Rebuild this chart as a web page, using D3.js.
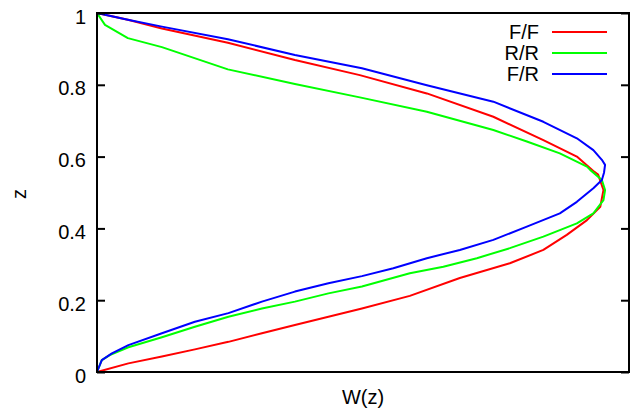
<!DOCTYPE html>
<html>
<head>
<meta charset="utf-8">
<script src="https://cdn.jsdelivr.net/npm/d3@7"></script>
<style>
  html, body { margin: 0; padding: 0; background: #fff; }
  text { font-family: "Liberation Sans", Arial, Helvetica, sans-serif; }
</style>
</head>
<body>
<svg id="chart" width="634" height="415"></svg>
<script>
// ---- data ----
const seriesNames = ["F/F", "R/R", "F/R"];
const seriesColors = ["#ff0000", "#00ff00", "#0000ff"];
const yTicks = [0, 0.2, 0.4, 0.6, 0.8, 1];

// F/F : W(z) (arbitrary units) and z
const ffW = [0, 0.059, 0.122, 0.184, 0.247, 0.310, 0.372, 0.435, 0.498, 0.588, 0.682, 0.776, 0.839, 0.883, 0.921, 0.946, 0.952, 0.942, 0.933, 0.902, 0.839, 0.745, 0.620, 0.494, 0.372, 0.246, 0.122, 0.058, 0];
const ffZ = [0, 0.024, 0.043, 0.063, 0.084, 0.108, 0.131, 0.154, 0.177, 0.212, 0.262, 0.303, 0.340, 0.382, 0.423, 0.460, 0.507, 0.550, 0.560, 0.600, 0.646, 0.711, 0.776, 0.827, 0.869, 0.917, 0.957, 0.981, 1];

// R/R
const rrW = [0, 0.009, 0.024, 0.059, 0.122, 0.184, 0.247, 0.310, 0.372, 0.435, 0.498, 0.588, 0.651, 0.714, 0.776, 0.839, 0.902, 0.933, 0.952, 0.955, 0.949, 0.927, 0.921, 0.870, 0.808, 0.745, 0.620, 0.494, 0.372, 0.246, 0.122, 0.058, 0.015, 0];
const rrZ = [0, 0.033, 0.047, 0.069, 0.097, 0.126, 0.154, 0.177, 0.196, 0.219, 0.238, 0.275, 0.293, 0.317, 0.345, 0.377, 0.414, 0.442, 0.479, 0.507, 0.535, 0.563, 0.572, 0.609, 0.642, 0.674, 0.725, 0.765, 0.802, 0.843, 0.905, 0.930, 0.967, 1];

// F/R
const frW = [0, 0.009, 0.028, 0.059, 0.122, 0.184, 0.247, 0.310, 0.372, 0.435, 0.498, 0.557, 0.620, 0.682, 0.745, 0.808, 0.870, 0.902, 0.933, 0.949, 0.953, 0.955, 0.949, 0.933, 0.902, 0.839, 0.745, 0.620, 0.498, 0.372, 0.246, 0.122, 0.058, 0];
const frZ = [0, 0.033, 0.052, 0.075, 0.108, 0.140, 0.164, 0.196, 0.224, 0.247, 0.267, 0.289, 0.317, 0.340, 0.368, 0.405, 0.442, 0.474, 0.512, 0.535, 0.555, 0.577, 0.591, 0.618, 0.651, 0.697, 0.753, 0.799, 0.846, 0.883, 0.927, 0.962, 0.981, 1];

const seriesW = [ffW, rrW, frW];
const seriesZ = [ffZ, rrZ, frZ];

// ---- layout ----
const L = 97, R = 629, T = 13, B = 372;
const svg = d3.select("#chart");
const x = d3.scaleLinear().domain([0, 1]).range([L, R]);
const y = d3.scaleLinear().domain([0, 1]).range([B, T]);

// curves
const line = d3.line().x(d => x(d[0])).y(d => y(d[1]));
seriesNames.forEach((name, i) => {
  const pts = seriesW[i].map((w, k) => [w, seriesZ[i][k]]);
  svg.append("path")
    .datum(pts)
    .attr("d", line)
    .attr("fill", "none")
    .attr("stroke", seriesColors[i])
    .attr("stroke-width", 2)
    .attr("stroke-linejoin", "round");
});

// left axis
const gL = svg.append("g").attr("transform", `translate(${L},0)`)
  .call(d3.axisLeft(y).tickValues(yTicks).tickFormat(d3.format("")).tickSizeInner(-8).tickSizeOuter(0).tickPadding(11));
gL.select(".domain").remove();
gL.selectAll("line").attr("stroke", "#000").attr("stroke-width", 2);
gL.selectAll("text").attr("font-size", 20).attr("fill", "#000").attr("dy", "10px")
  .attr("font-family", '"Liberation Sans", Arial, sans-serif');

// right axis (mirror ticks)
const gR = svg.append("g").attr("transform", `translate(${R},0)`)
  .call(d3.axisRight(y).tickValues(yTicks).tickFormat("").tickSizeInner(-8).tickSizeOuter(0));
gR.select(".domain").remove();
gR.selectAll("line").attr("stroke", "#000").attr("stroke-width", 2);

// frame
svg.append("rect").attr("x", L).attr("y", T).attr("width", R - L).attr("height", B - T)
  .attr("fill", "none").attr("stroke", "#000").attr("stroke-width", 2);

// axis labels
svg.append("text").attr("x", (L + R) / 2).attr("y", 397).attr("text-anchor", "middle")
  .attr("dominant-baseline", "central").attr("font-size", 20).text("W(z)");
svg.append("text").attr("transform", "translate(19,194) rotate(-90)").attr("text-anchor", "middle")
  .attr("dominant-baseline", "central").attr("font-size", 20).text("z");

// legend
seriesNames.forEach((name, i) => {
  const ly = 32 + i * 21;
  svg.append("text").attr("x", 539).attr("y", ly + 7).attr("text-anchor", "end")
    .attr("font-size", 20).text(name);
  svg.append("line").attr("x1", 552).attr("x2", 607).attr("y1", ly).attr("y2", ly)
    .attr("stroke", seriesColors[i]).attr("stroke-width", 2);
});
</script>
</body>
</html>
